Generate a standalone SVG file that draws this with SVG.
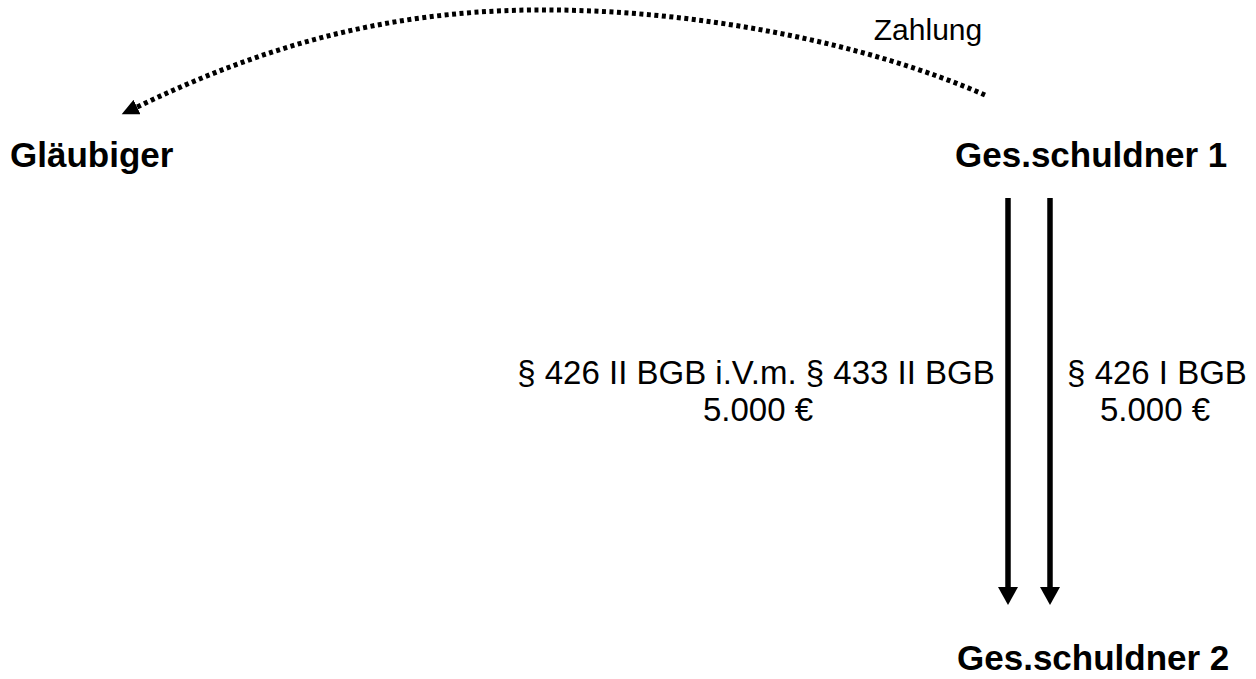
<svg xmlns="http://www.w3.org/2000/svg" width="1256" height="679" viewBox="0 0 1256 679">
<style>
text{font-family:"Liberation Sans",Arial,sans-serif;fill:#000}
.node{font-weight:bold;font-size:35px}
.lbl{font-size:33px}
.conn{fill:none;stroke:#000}
</style>
<defs>
<marker id="ah" markerUnits="userSpaceOnUse" markerWidth="20" markerHeight="16" refX="0" refY="8" orient="auto">
<path d="M0,0 L17,8 L0,16 z" fill="#000"/>
</marker>
<marker id="av" markerUnits="userSpaceOnUse" markerWidth="20" markerHeight="20" refX="0" refY="10" orient="auto">
<path d="M0,0 L18,10 L0,20 z" fill="#000"/>
</marker>
</defs>
<rect width="1256" height="679" fill="#fff"/>
<g id="connectors">
<path class="conn" d="M985 95 C870 45 700 8 530 10 C380 12 260 48 137 107" stroke-width="5" stroke-dasharray="4 3.5" marker-end="url(#ah)"/>
<line class="conn" x1="1008" y1="198" x2="1008" y2="587" stroke-width="5.5" marker-end="url(#av)"/>
<line class="conn" x1="1050" y1="198" x2="1050" y2="587" stroke-width="5.5" marker-end="url(#av)"/>
<text class="lbl" x="928" y="40" style="font-size:30px" text-anchor="middle">Zahlung</text>
<text class="lbl" x="756" y="384" text-anchor="middle">§ 426 II BGB i.V.m. § 433 II BGB</text>
<text class="lbl" x="758" y="421" text-anchor="middle">5.000 €</text>
<text class="lbl" x="1157" y="384" text-anchor="middle">§ 426 I BGB</text>
<text class="lbl" x="1155" y="421" text-anchor="middle">5.000 €</text>
</g>
<g id="glaeubiger"><text class="node" x="10" y="167">Gläubiger</text></g>
<g id="gesamtschuldner1"><text class="node" x="955" y="167">Ges.schuldner 1</text></g>
<g id="gesamtschuldner2"><text class="node" x="957" y="670">Ges.schuldner 2</text></g>
</svg>
